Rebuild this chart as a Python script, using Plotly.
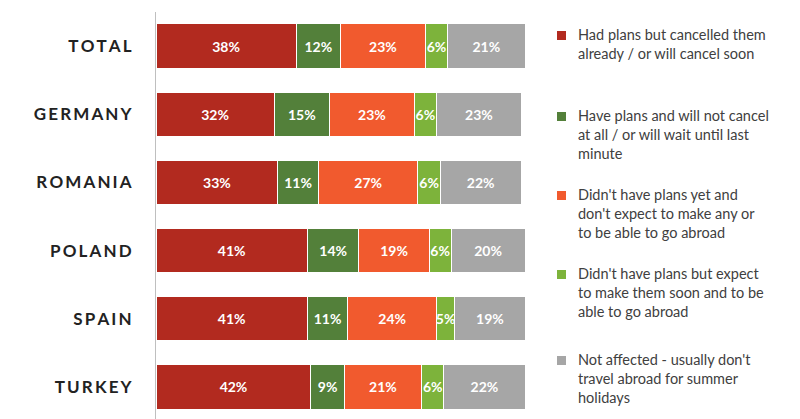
import plotly.graph_objects as go

countries = ['TOTAL', 'GERMANY', 'ROMANIA', 'POLAND', 'SPAIN', 'TURKEY']
cancelled = [38, 32, 33, 41, 41, 42]
keep_plans = [12, 15, 11, 14, 11, 9]
no_plans = [23, 23, 27, 19, 24, 21]
expect_plans = [6, 6, 6, 6, 5, 6]
not_affected = [21, 23, 22, 20, 19, 22]

series = [
    ("Had plans but cancelled them<br>already / or will cancel soon", cancelled, '#B22A1F'),
    ("Have plans and will not cancel<br>at all / or will wait until last<br>minute", keep_plans, '#53803A'),
    ("Didn't have plans yet and<br>don't expect to make any or<br>to be able to go abroad", no_plans, '#F15A2E'),
    ("Didn't have plans but expect<br>to make them soon and to be<br>able to go abroad", expect_plans, '#7DB33B'),
    ("Not affected - usually don't<br>travel abroad for summer<br>holidays", not_affected, '#A6A6A6'),
]
legend_y = [27, 108, 187, 266, 352]

fig = go.Figure()
for name, vals, col in series:
    fig.add_trace(go.Bar(
        y=countries, x=vals, orientation='h', name=name,
        marker=dict(color=col, line=dict(color='white', width=1)),
        text=[f'<b>{v}%</b>' for v in vals], textposition='inside',
        insidetextanchor='middle', textangle=0, constraintext='none',
        textfont=dict(color='white', size=14, family='Lato'),
        showlegend=False,
    ))

# legend drawn by hand to keep the spacing of the original
for (name, vals, col), py in zip(series, legend_y):
    yp = (413 - py) / 409
    fig.add_shape(type='rect', xref='paper', yref='paper',
                  x0=(549 - 148) / 369, x1=(558 - 148) / 369,
                  y0=yp - 5 / 409, y1=yp + 4 / 409,
                  fillcolor=col, line=dict(width=0))
    fig.add_annotation(xref='paper', yref='paper', x=(568 - 148) / 369, y=yp + 11 / 409,
                       text=name, showarrow=False, xanchor='left', yanchor='top',
                       align='left', font=dict(size=14.5, color='#404040', family='Lato'))

fig.update_layout(
    barmode='stack', width=800, height=419,
    margin=dict(l=148, r=283, t=4, b=6),
    plot_bgcolor='white', paper_bgcolor='white',
    bargap=0.35,
    xaxis=dict(range=[0, 100], visible=False),
    yaxis=dict(autorange='reversed', showline=True, linecolor='#BFBFBF', linewidth=1,
               ticks='', ticklabelstandoff=20, automargin=False,
               tickvals=countries,
               ticktext=['<b>' + '\u2009'.join(c) + '</b>' for c in countries],
               tickfont=dict(size=17, color='#222222', family='Lato')),
)
fig.write_html("out.html")
